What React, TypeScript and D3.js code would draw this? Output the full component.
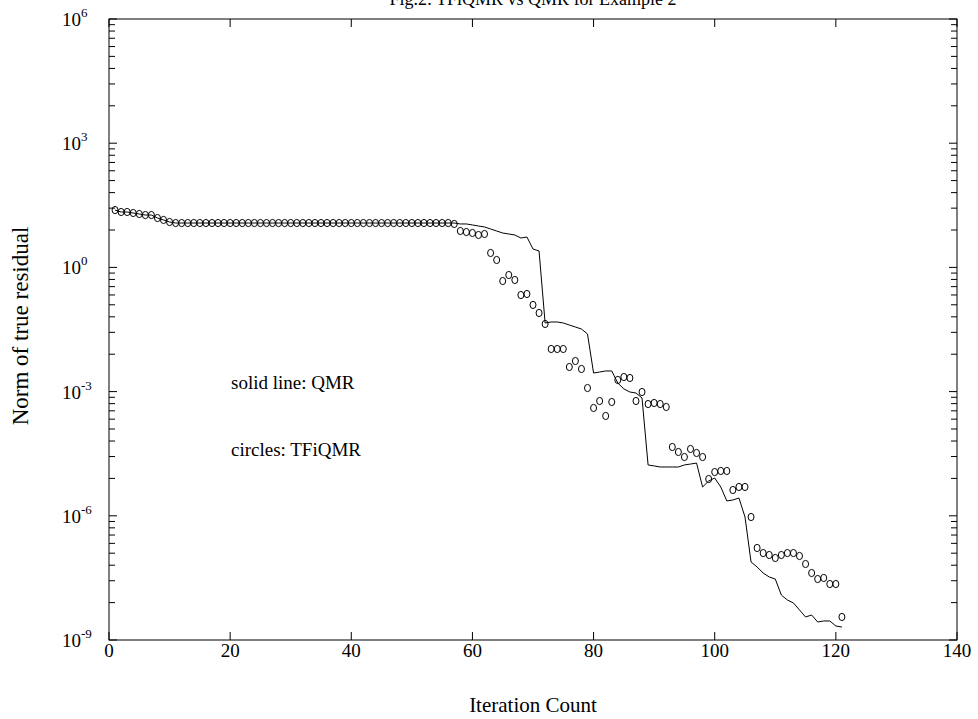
import React from 'react';
import * as d3 from 'd3';

// Iteration numbers (x) and the two residual histories
const iterations = d3.range(1, 122);

const tfiqmr = [
  24.3, 21.8, 21.8, 20.6, 19.5, 18.4, 18.4, 15.6, 14.0, 12.5,
  11.8, 11.8, 11.8, 11.8, 11.8, 11.8, 11.8, 11.8, 11.8, 11.8,
  11.8, 11.8, 11.8, 11.8, 11.8, 11.8, 11.8, 11.8, 11.8, 11.8,
  11.8, 11.8, 11.8, 11.8, 11.8, 11.8, 11.8, 11.8, 11.8, 11.8,
  11.8, 11.8, 11.8, 11.8, 11.8, 11.8, 11.8, 11.8, 11.8, 11.8,
  11.8, 11.8, 11.8, 11.8, 11.8, 11.8,
  11.2,
  7.57, 7.16, 6.78, 6.07, 6.41,
  2.23, 1.51, 0.469, 0.655, 0.497, 0.215, 0.228, 0.124, 0.0792, 0.043,
  0.0107, 0.0107, 0.0107, 0.00393, 0.00548, 0.00352, 0.00122, 0.000402,
  0.000593, 0.000258, 0.000561, 0.00191, 0.00225, 0.00213, 0.000593, 0.000977, 0.000501, 0.000531, 0.000501, 0.000425,
  4.59e-5, 3.48e-5, 2.63e-5, 4.11e-5, 3.29e-5, 2.63e-5, 7.74e-6, 1.14e-5, 1.21e-5, 1.21e-5, 4.2e-6, 4.97e-6, 4.97e-6,
  9.35e-7, 1.67e-7, 1.26e-7, 1.13e-7, 9.57e-8, 1.13e-7, 1.26e-7, 1.26e-7, 1.07e-7, 6.86e-8, 4.15e-8, 2.97e-8, 3.15e-8, 2.25e-8, 2.25e-8, 3.6e-9,
];

const qmr = [
  24.3, 21.8, 21.8, 20.6, 19.5, 18.4, 18.4, 15.6, 14.0, 12.5,
  11.8, 11.8, 11.8, 11.8, 11.8, 11.8, 11.8, 11.8, 11.8, 11.8,
  11.8, 11.8, 11.8, 11.8, 11.8, 11.8, 11.8, 11.8, 11.8, 11.8,
  11.8, 11.8, 11.8, 11.8, 11.8, 11.8, 11.8, 11.8, 11.8, 11.8,
  11.8, 11.8, 11.8, 11.8, 11.8, 11.8, 11.8, 11.8, 11.8, 11.8,
  11.8, 11.8, 11.8, 11.8, 11.8, 11.8, 11.8,
  11.2, 11.2, 10.6, 10.0, 9.46, 8.47,
  7.57, 6.78, 6.41, 6.07, 5.13, 5.42, 2.78, 2.49,
  0.0454, 0.048, 0.048, 0.0454, 0.0406, 0.0363, 0.0325, 0.0246,
  0.00281, 0.00297, 0.00315, 0.00315, 0.00161, 0.00116, 0.000977, 0.000925, 0.0007,
  1.69e-5, 1.6e-5, 1.51e-5, 1.51e-5, 1.51e-5, 1.51e-5, 1.69e-5, 1.78e-5, 1.88e-5,
  4.97e-6, 6.93e-6, 8.18e-6, 4.97e-6, 2.28e-6, 2.41e-6, 2.69e-6, 9.35e-7,
  7.66e-8, 5.79e-8, 4.15e-8, 3.33e-8, 2.97e-8, 1.22e-8, 9.25e-9, 7.83e-9, 5.31e-9, 3.6e-9, 4.02e-9, 2.72e-9, 2.88e-9, 2.88e-9, 2.18e-9, 2.06e-9,
];

const xTicks = [0, 20, 40, 60, 80, 100, 120, 140];
const yMajorExp = [-9, -6, -3, 0, 3, 6];
const yMinorMult = [2, 3, 4, 5, 6, 7, 8, 9];

const FONT = '"Liberation Serif", "Times New Roman", serif';

const App = () => {
  const width = 978;
  const height = 719;
  const left = 109;
  const right = 957;
  const top = 19;
  const bottom = 640;

  const x = d3.scaleLinear([0, 140], [left, right]);
  const y = d3.scaleLog([1e-9, 1e6], [bottom, top]);

  const line = d3.line<number>()
    .x((_, i) => x(iterations[i]))
    .y(d => y(d));

  // matlab-style minor ticks: each 3-decade step split like a single decade
  const minor: number[] = [];
  yMajorExp.slice(0, -1).forEach(e => {
    yMinorMult.forEach(k => minor.push(Math.pow(10, e + 3 * Math.log10(k))));
  });

  const majorLen = 8;
  const minorLen = 6;

  return (
    <svg
      width={width}
      height={height}
      viewBox={`0 0 ${width} ${height}`}
      style={{ position: 'absolute', left: 0, top: 0, background: '#fff' }}
      fontFamily={FONT}
    >
      <rect x={0} y={0} width={width} height={height} fill="#fff" />

      {/* title sits mostly above the page edge, as in the original */}
      <text x={(left + right) / 2} y={5} textAnchor="middle" fontSize={18}>
        Fig.2: TFiQMR vs QMR for Example 2
      </text>

      {/* frame */}
      <rect x={left} y={top} width={right - left} height={bottom - top} fill="none" stroke="#000" strokeWidth={1} />

      {/* x ticks, top and bottom */}
      {xTicks.map(t => (
        <g key={`x${t}`}>
          <line x1={x(t)} x2={x(t)} y1={bottom} y2={bottom - majorLen} stroke="#000" />
          <line x1={x(t)} x2={x(t)} y1={top} y2={top + majorLen} stroke="#000" />
          <text x={x(t)} y={657} textAnchor="middle" fontSize={19}>{t}</text>
        </g>
      ))}

      {/* y ticks, left and right */}
      {yMajorExp.map(e => {
        const yy = y(Math.pow(10, e));
        return (
          <g key={`y${e}`}>
            <line x1={left} x2={left + majorLen} y1={yy} y2={yy} stroke="#000" />
            <line x1={right} x2={right - majorLen} y1={yy} y2={yy} stroke="#000" />
            <text x={62} y={yy + 7} fontSize={19}>
              10<tspan dy={-9} fontSize={13}>{e < 0 ? `-${-e}` : e}</tspan>
            </text>
          </g>
        );
      })}
      {minor.map((v, i) => (
        <g key={`m${i}`}>
          <line x1={left} x2={left + minorLen} y1={y(v)} y2={y(v)} stroke="#000" />
          <line x1={right} x2={right - minorLen} y1={y(v)} y2={y(v)} stroke="#000" />
        </g>
      ))}

      {/* QMR solid line */}
      <path d={line(qmr) || ''} fill="none" stroke="#000" strokeWidth={1} />

      {/* TFiQMR circles */}
      {tfiqmr.map((v, i) => (
        <ellipse key={`c${i}`} cx={x(iterations[i])} cy={y(v)} rx={3} ry={3.6} fill="none" stroke="#000" strokeWidth={1} />
      ))}

      <text x={231} y={389} fontSize={19}>solid line: QMR</text>
      <text x={231} y={456} fontSize={19}>circles: TFiQMR</text>

      <text x={(left + right) / 2} y={712} textAnchor="middle" fontSize={21}>Iteration Count</text>
      <text
        transform={`translate(28,326) rotate(-90)`}
        textAnchor="middle"
        fontSize={23}
      >
        Norm of true residual
      </text>
    </svg>
  );
};

export default App;
